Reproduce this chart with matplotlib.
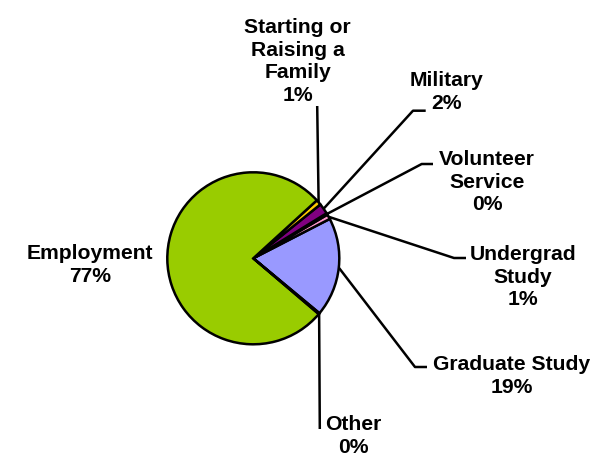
import matplotlib
matplotlib.use("Agg")
import matplotlib.pyplot as plt
import numpy as np

# slices in drawing order (counterclockwise from the Graduate/Other edge)
labels = ["Graduate Study", "Undergrad\nStudy", "Volunteer\nService", "Military",
          "Starting or\nRaising a\nFamily", "Employment", "Other"]
values = [18.6, 0.9, 0.3, 2.0, 1.0, 77.0, 0.2]
pct_text = ["19%", "1%", "0%", "2%", "1%", "77%", "0%"]
colors = ["#9999FF", "#FF99CC", "#CCFFFF", "#800080", "#FFCC00", "#99CC00", "#FFFFCC"]

W, H = 595, 456
fig = plt.figure(figsize=(W / 100, H / 100), dpi=100)
ax = fig.add_axes([0, 0, 1, 1])

cx, cy, r = 253.3, H - 259.3, 86
wedges, _ = ax.pie(values, colors=colors, startangle=-39.7, counterclock=True,
                   center=(cx, cy), radius=r, frame=True,
                   wedgeprops=dict(edgecolor="black", linewidth=1.8))
ax.set_xlim(0, W)
ax.set_ylim(0, H)
ax.set_aspect("equal")
ax.axis("off")

# label placement: (text x, text top y in px, elbow x, elbow y, end x) ; None = no leader
place = {
    0: (512, 355, 415, 368, 427),
    1: (523, 245, 454, 259, 466),
    2: (487, 150, 421.7, 165, 433),
    3: (446, 71, 413, 111.7, 425.7),
    4: (297.5, 18, 317.2, 107, 317.2),
    5: (90.3, 244, None, None, None),
    6: (353, 415, 319.8, 430, 319.8),
}

font = dict(family=["Liberation Sans", "DejaVu Sans"], fontweight="bold", fontsize=15.2)
for i, w in enumerate(wedges):
    tx, ty, ex, ey, endx = place[i]
    ax.text(tx, H - ty, labels[i] + "\n" + pct_text[i], ha="center", va="top",
            linespacing=1.24, **font)
    if ex is None:
        continue
    mid = np.deg2rad((w.theta1 + w.theta2) / 2)
    sx, sy = cx + r * np.cos(mid), cy + r * np.sin(mid)
    ax.plot([sx, ex, endx], [sy, H - ey, H - ey], color="black", lw=1.8,
            solid_capstyle="butt", zorder=0.5)

fig.savefig("out.png", dpi=100)
